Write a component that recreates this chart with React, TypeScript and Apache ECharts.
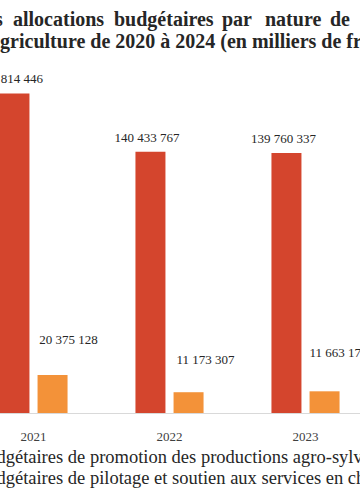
import React, { useEffect, useRef } from "react";
import * as echarts from "echarts";

// ---- data (2020 and 2024 fall outside the visible crop) ----
const years = ["2020", "2021", "2022", "2023", "2024"];
const promotionValues: (number | null)[] = [null, 171814446, 140433767, 139760337, null];
const pilotageValues: (number | null)[] = [null, 20375128, 11173307, 11663175, null];
const seriesNames = [
  "Allocations budgétaires de promotion des productions agro-sylvo-pastorales",
  "Allocations budgétaires de pilotage et soutien aux services en charge de l'agriculture",
];
const titleLine1Words = ["Evolution", "des", "allocations", "budgétaires", "par", "nature", "de", "dépenses"];
const titleLine2 = "l'agriculture de 2020 à 2024 (en milliers de francs CFA)";

// ---- layout (kept apart from the data) ----
const SHIFT = 200; // the chart canvas begins 200px left of the visible window
const titleWordX = [-119, -25, 13, 114, 222, 265, 330, 362];
const promotionLabelOffset = [[-3, -3], [-4, -3], [-3.5, -3], [-3, -3], [-3, -3]];
const pilotageLabelOffset = [[16, -24], [16, -24.5], [17, -21.5], [14, -27.5], [16, -24]];

const FONT = "'Liberation Serif', 'Times New Roman', serif";
const RED = "#D4452D";
const ORANGE = "#F39239";

const fmt = (v: number) => String(v).replace(/\B(?=(\d{3})+(?!\d))/g, " ");

export default function App() {
  const ref = useRef<HTMLDivElement>(null);
  useEffect(() => {
    if (!ref.current) return;
    const chart = echarts.init(ref.current, null, { renderer: "svg" });
    const mk = (vals: (number | null)[], offs: number[][]) =>
      vals.map((v, i) => ({
        value: v,
        label: { offset: offs[i] },
      }));
    chart.setOption({
      animation: false,
      backgroundColor: "#ffffff",
      graphic: [
        ...titleLine1Words.map((w, i) => ({
          type: "text",
          x: titleWordX[i] + SHIFT,
          y: 19,
          style: {
            text: w,
            font: `bold 20px ${FONT}`,
            fill: "#262626",
            textAlign: "left",
            textVerticalAlign: "middle",
          },
        })),
        {
          type: "text",
          x: -21 + SHIFT,
          y: 41,
          style: {
            text: titleLine2,
            font: `bold 20px ${FONT}`,
            fill: "#262626",
            textAlign: "left",
            textVerticalAlign: "middle",
          },
        },
      ],
      legend: {
        orient: "vertical",
        left: 66,
        top: 441,
        itemWidth: 12,
        itemHeight: 12,
        itemGap: 0,
        icon: "rect",
        textStyle: { fontFamily: FONT, fontSize: 18.5, color: "#262626", lineHeight: 21 },
        data: seriesNames,
      },
      grid: { left: 29.5, right: 30.5, top: 41, bottom: 91 },
      xAxis: {
        type: "category",
        data: years,
        axisLine: { lineStyle: { color: "#D9D9D9", width: 1 } },
        axisTick: { show: false },
        axisLabel: { fontFamily: FONT, fontSize: 13, color: "#404040", margin: 17 },
      },
      yAxis: { type: "value", min: 0, max: 200000000, show: false, splitLine: { show: false } },
      series: [
        {
          name: seriesNames[0],
          type: "bar",
          barWidth: 30,
          barGap: "27%",
          itemStyle: { color: RED },
          label: {
            show: true,
            position: "top",
            distance: 5,
            fontFamily: FONT,
            fontSize: 13,
            color: "#262626",
            formatter: (p: any) => fmt(p.value),
          },
          data: mk(promotionValues, promotionLabelOffset),
        },
        {
          name: seriesNames[1],
          type: "bar",
          barWidth: 30,
          itemStyle: { color: ORANGE },
          label: {
            show: true,
            position: "top",
            distance: 5,
            fontFamily: FONT,
            fontSize: 13,
            color: "#262626",
            formatter: (p: any) => fmt(p.value),
          },
          data: mk(pilotageValues, pilotageLabelOffset),
        },
      ],
    });
    return () => chart.dispose();
  }, []);
  return (
    <div
      style={{
        position: "fixed",
        left: 0,
        top: 0,
        width: 360,
        height: 504,
        overflow: "hidden",
        background: "#fff",
      }}
    >
      <div
        ref={ref}
        style={{ position: "absolute", left: -SHIFT, top: 0, width: 740, height: 504 }}
      />
    </div>
  );
}
